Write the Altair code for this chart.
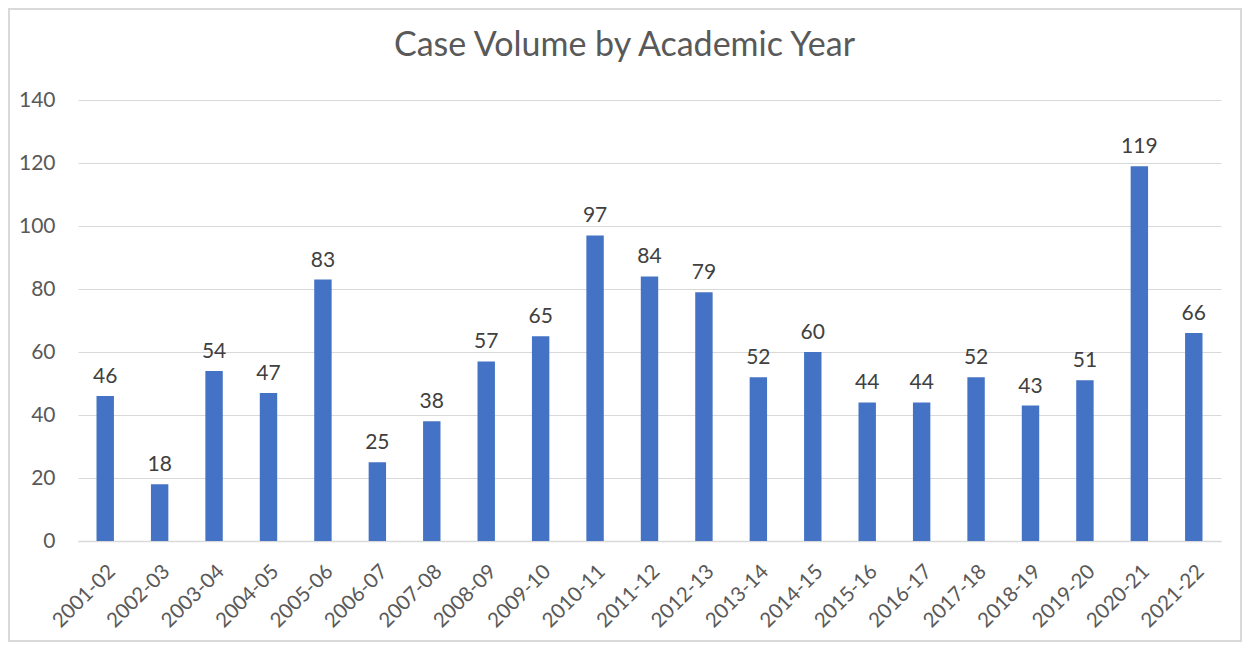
import altair as alt
import pandas as pd

years = ["2001-02", "2002-03", "2003-04", "2004-05", "2005-06", "2006-07", "2007-08",
         "2008-09", "2009-10", "2010-11", "2011-12", "2012-13", "2013-14", "2014-15",
         "2015-16", "2016-17", "2017-18", "2018-19", "2019-20", "2020-21", "2021-22"]
cases = [46, 18, 54, 47, 83, 25, 38, 57, 65, 97, 84, 79, 52, 60, 44, 44, 52, 43, 51, 119, 66]
title_text = ["Case Volume by Academic Year"]

df = pd.DataFrame({"year": years, "cases": cases})

FONT = "Lato"
FS = 21
W, H = 1143, 441
PAD = {"left": 70, "top": 92, "right": 21, "bottom": 101}

x = alt.X("year:N", sort=years, title=None,
          scale=alt.Scale(paddingInner=0.68, paddingOuter=0.34),
          axis=alt.Axis(labelAngle=-45, labelFontSize=20.5, labelColor="#595959",
                        labelFont=FONT, ticks=False, domain=True, domainColor="#d9d9d9",
                        domainWidth=1.5, labelPadding=20))
y = alt.Y("cases:Q", title=None,
          scale=alt.Scale(domain=[0, 140], nice=False),
          axis=alt.Axis(values=[0, 20, 40, 60, 80, 100, 120, 140], labelFontSize=FS,
                        labelColor="#595959", labelFont=FONT, ticks=False, domain=False,
                        gridColor="#d9d9d9", gridWidth=1.2, labelPadding=23))

bars = alt.Chart(df).mark_bar(color="#4472C4").encode(x=x, y=y)
labels = alt.Chart(df).mark_text(baseline="bottom", dy=-9, fontSize=FS, font=FONT,
                                 color="#404040").encode(x=x, y=y, text="cases:Q")
border = alt.Chart(df).mark_rect(fill=None, stroke="#d9d9d9", strokeWidth=1.5).encode(
    x=alt.value(-69), x2=alt.value(W + PAD["right"] - 1),
    y=alt.value(-PAD["top"] + 1), y2=alt.value(H + PAD["bottom"] - 1))
title = alt.Chart(pd.DataFrame({"t": title_text})).mark_text(
    fontSize=34, font=FONT, color="#595959", baseline="middle", align="center"
).encode(x=alt.value(W / 2 - 25), y=alt.value(-54), text="t:N")

chart = alt.layer(border, bars, labels, title).properties(
    width=W, height=H,
    autosize=alt.AutoSizeParams(type="none"),
    padding=PAD,
).configure(background="white").configure_view(stroke=None)

chart.save("out.html", embed_options={"renderer": "svg", "actions": False})
